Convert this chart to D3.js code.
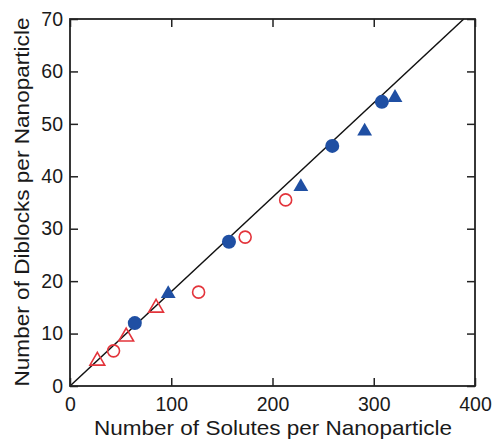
<!DOCTYPE html>
<html><head><meta charset="utf-8">
<script src="https://cdn.jsdelivr.net/npm/d3@7"></script>
<style>body{margin:0;background:#fff;} text{font-family:"Liberation Sans",Arial,sans-serif;fill:#1a1a1a;}</style>
</head><body>
<svg id="c" width="494" height="441"></svg>
<script>
const xTicks = [0,100,200,300,400];
const yTicks = [0,10,20,30,40,50,60,70];
const blueCircleX = [64,157,259,308];
const blueCircleY = [12,27.5,45.8,54.2];
const blueTriX = [97,228,291,321];
const blueTriY = [17.6,38,48.6,55];
const redCircleX = [43,127,173,213];
const redCircleY = [6.7,17.9,28.4,35.5];
const redTriX = [27,55.5,85];
const redTriY = [4.8,9.4,14.9];
const fitSlope = 0.18;
const xTitle = "Number of Solutes per Nanoparticle";
const yTitle = "Number of Diblocks per Nanoparticle";

const svg = d3.select("#c");
const L=70,R=475,T=19,B=386;
const x = d3.scaleLinear().domain([0,400]).range([L,R]);
const y = d3.scaleLinear().domain([0,70]).range([B,T]);
const blue="#1f4fa3", red="#e3343b";

svg.append("line").attr("x1",x(0)).attr("y1",y(0)).attr("x2",x(70/fitSlope)).attr("y2",y(70))
  .attr("stroke","#111").attr("stroke-width",1.5);

const fs = 19.5;
svg.append("g").attr("transform",`translate(0,${B})`)
  .call(d3.axisBottom(x).tickValues(xTicks).tickSize(-8).tickPadding(11).tickFormat(d3.format("d")))
  .call(g=>{g.select(".domain").remove();g.selectAll("text").attr("font-size",fs).style("fill","#1a1a1a");g.selectAll("line").attr("stroke","#222").attr("stroke-width",1.5);});
svg.append("g").attr("transform",`translate(0,${T})`)
  .call(d3.axisTop(x).tickValues(xTicks).tickSize(-8).tickFormat(""))
  .call(g=>{g.select(".domain").remove();g.selectAll("line").attr("stroke","#222").attr("stroke-width",1.5);});
svg.append("g").attr("transform",`translate(${L},0)`)
  .call(d3.axisLeft(y).tickValues(yTicks).tickSize(-8).tickPadding(7).tickFormat(d3.format("d")))
  .call(g=>{g.select(".domain").remove();g.selectAll("text").attr("font-size",fs).style("fill","#1a1a1a");g.selectAll("line").attr("stroke","#222").attr("stroke-width",1.5);});
svg.append("g").attr("transform",`translate(${R},0)`)
  .call(d3.axisRight(y).tickValues(yTicks).tickSize(-8).tickFormat(""))
  .call(g=>{g.select(".domain").remove();g.selectAll("line").attr("stroke","#222").attr("stroke-width",1.5);});
svg.append("rect").attr("x",L).attr("y",T).attr("width",R-L).attr("height",B-T)
  .attr("fill","none").attr("stroke","#222").attr("stroke-width",1.8);

const tri = d3.symbol().type(d3.symbolTriangle).size(95);
function pts(xs,ys){return xs.map((v,i)=>({x:v,y:ys[i]}));}
svg.append("g").selectAll("circle").data(pts(blueCircleX,blueCircleY)).join("circle")
  .attr("cx",d=>x(d.x)).attr("cy",d=>y(d.y)).attr("r",7).attr("fill",blue);
svg.append("g").selectAll("path").data(pts(blueTriX,blueTriY)).join("path")
  .attr("d",tri).attr("transform",d=>`translate(${x(d.x)},${y(d.y)})`).attr("fill",blue);
svg.append("g").selectAll("circle").data(pts(redCircleX,redCircleY)).join("circle")
  .attr("cx",d=>x(d.x)).attr("cy",d=>y(d.y)).attr("r",6).attr("fill","none").attr("stroke",red).attr("stroke-width",1.6);
svg.append("g").selectAll("path").data(pts(redTriX,redTriY)).join("path")
  .attr("d",tri).attr("transform",d=>`translate(${x(d.x)},${y(d.y)})`).attr("fill","none").attr("stroke",red).attr("stroke-width",1.6);

svg.append("text").attr("x",273).attr("y",435).attr("text-anchor","middle").attr("font-size",21)
  .attr("textLength",358).attr("lengthAdjust","spacingAndGlyphs").text(xTitle);
svg.append("text").attr("transform",`translate(29,202) rotate(-90)`).attr("text-anchor","middle").attr("font-size",21)
  .attr("textLength",369).attr("lengthAdjust","spacingAndGlyphs").text(yTitle);
</script>
</body></html>
